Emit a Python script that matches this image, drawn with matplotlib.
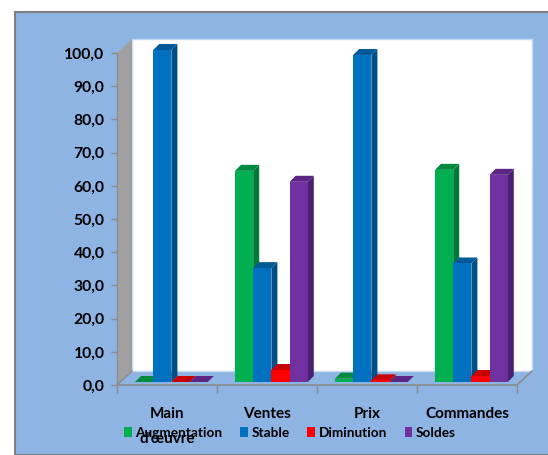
import matplotlib
matplotlib.use("Agg")
import matplotlib.pyplot as plt
from matplotlib.patches import Rectangle, Patch

plt.rcParams['font.family'] = ['Lato', 'DejaVu Sans']

categories = ["Main\nd'œuvre", "Ventes", "Prix", "Commandes"]
augmentation = [0.0, 63.6, 1.0, 63.9]
stable = [100.0, 34.3, 98.5, 35.7]
diminution = [0.0, 3.6, 0.5, 1.8]
soldes = [0.0, 60.3, 0.0, 62.4]
yticks = [0, 10, 20, 30, 40, 50, 60, 70, 80, 90, 100]

series = [
    ("Augmentation", augmentation, "#00B050", "#007A38", "#008A40"),
    ("Stable", stable, "#0070C0", "#004E86", "#005A9A"),
    ("Diminution", diminution, "#FF0000", "#B00000", "#C80000"),
    ("Soldes", soldes, "#7030A0", "#4A2070", "#5A2585"),
]

W, H = 548, 455
fig = plt.figure(figsize=(W / 100, H / 100), dpi=100, facecolor="white")

# panel behind the chart
fig.patches.append(Rectangle((15 / W, 0), 1, 1 - 12 / H, transform=fig.transFigure,
                             facecolor="#8EB4E3", edgecolor="#808080", linewidth=1.5,
                             zorder=-5))

# axes = front plane of the fake 3d box
left, right, top, bottom = 117, 517, 53, 385
ax = fig.add_axes([left / W, 1 - bottom / H, (right - left) / W, (bottom - top) / H])
ax.set_xlim(0, 4)
ax.set_ylim(0, 100)
ax.patch.set_alpha(0)
for s in ax.spines.values():
    s.set_visible(False)

px_x = 4 / (right - left)
px_y = 100 / (bottom - top)
depth_x = 15 * px_x
depth_y = 14 * px_y

# back wall, side wall, floor edges
ax.fill([depth_x, 4 + depth_x, 4 + depth_x, depth_x],
        [depth_y, depth_y, 100 + depth_y, 100 + depth_y],
        facecolor="white", edgecolor="#C5D9F1", linewidth=1, clip_on=False, zorder=1)
ax.fill([0, depth_x, depth_x, 0], [0, depth_y, 100 + depth_y, 100],
        facecolor="#A0A0A0", edgecolor="none", clip_on=False, zorder=1)
ax.plot([0, 4, 4 + depth_x], [0, 0, depth_y], color="#8C8C8C", lw=1.2, clip_on=False, zorder=2)
ax.plot([0, depth_x], [0, depth_y], color="#8C8C8C", lw=1, clip_on=False, zorder=2)
ax.plot([0, 0], [0, 100], color="#8C8C8C", lw=1, clip_on=False, zorder=2)

# bars
bar_w = 18.2 * px_x
bar_dx = 6 * px_x
bar_dy = 6 * px_y
lift = 3 * px_y
start = 18 * px_x
z = 3
for c in range(len(categories)):
    for i, (name, vals, col, side, topc) in enumerate(series):
        x0 = c + start + i * bar_w
        x1 = x0 + bar_w
        y1 = lift + vals[c]
        ax.fill([x1, x1 + bar_dx, x1 + bar_dx, x1], [lift, lift + bar_dy, y1 + bar_dy, y1],
                facecolor=side, edgecolor="none", clip_on=False, zorder=z)
        ax.fill([x0, x1, x1 + bar_dx, x0 + bar_dx], [y1, y1, y1 + bar_dy, y1 + bar_dy],
                facecolor=topc, edgecolor="none", clip_on=False, zorder=z)
        ax.bar(x0, vals[c], width=bar_w, bottom=lift, align="edge", color=col,
               linewidth=0, clip_on=False, zorder=z)
        z += 1

ax.set_yticks(yticks)
ax.set_yticklabels([f"{v:.1f}".replace(".", ",") for v in yticks],
                   fontsize=11.3, fontweight="bold", color="black")
ax.tick_params(axis="y", length=4, width=1, color="#8C8C8C", pad=5)
ax.set_xticks(range(5))
ax.set_xticklabels([])
ax.tick_params(axis="x", which="major", length=6, width=1, color="#8C8C8C")
ax.set_xticks([0.5, 1.5, 2.5, 3.5], minor=True)
ax.set_xticklabels(categories, minor=True, fontsize=11, fontweight="bold",
                   color="black", linespacing=2.0)
ax.tick_params(axis="x", which="minor", length=0, pad=16)

handles = [Patch(facecolor=s[2], edgecolor="none", label=s[0]) for s in series]
leg = fig.legend(handles=handles, ncol=4, frameon=False, loc="center left",
                 bbox_to_anchor=(124 / W, 1 - 433 / H), fontsize=9.8,
                 handlelength=0.58, handleheight=0.8, handletextpad=0.25,
                 columnspacing=1.3, borderpad=0, borderaxespad=0)
for t in leg.get_texts():
    t.set_fontweight("bold")
    t.set_color("black")

fig.savefig("out.png", dpi=100)
